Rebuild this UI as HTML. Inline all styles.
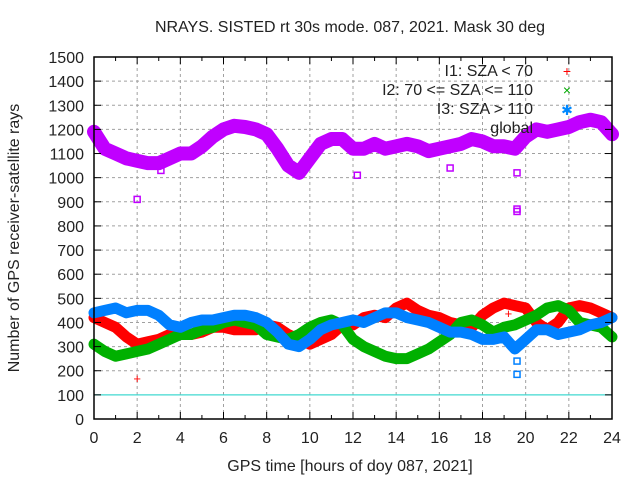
<!DOCTYPE html>
<html><head><meta charset="utf-8"><style>
body{margin:0;background:#fff}
svg text{font-family:"Liberation Sans",sans-serif;font-size:16px;fill:#222}
</style></head><body>
<svg id="chart" width="640" height="480" xmlns="http://www.w3.org/2000/svg">
<g id="grid"></g>
<g id="series"></g>
<g id="axes"></g>
<text x="350" y="32" text-anchor="middle">NRAYS. SISTED rt 30s mode. 087, 2021. Mask 30 deg</text>
<text x="350" y="471" text-anchor="middle">GPS time [hours of doy 087, 2021]</text>
<text transform="translate(19,238) rotate(-90)" text-anchor="middle">Number of GPS receiver-satellite rays</text>
<g id="legend">
<text x="533" y="76" text-anchor="end">I1: SZA &lt; 70</text>
<text x="533" y="95" text-anchor="end">I2: 70 &lt;= SZA &lt;= 110</text>
<text x="533" y="114" text-anchor="end">I3: SZA &gt; 110</text>
<text x="533" y="133" text-anchor="end">global</text>
<text x="567" y="76" text-anchor="middle" style="fill:#f00;font-size:14px">+</text>
<text x="567" y="95" text-anchor="middle" style="fill:#0a0;font-size:14px">×</text>
<text x="567" y="115" text-anchor="middle" style="fill:#08f;font-size:14px">✱</text>
</g>
</svg>
<script>
const hours=[0,0.5,1,1.5,2,2.5,3,3.5,4,4.5,5,5.5,6,6.5,7,7.5,8,8.5,9,9.5,10,10.5,11,11.5,12,12.5,13,13.5,14,14.5,15,15.5,16,16.5,17,17.5,18,18.5,19,19.5,20,20.5,21,21.5,22,22.5,23,23.5,24];
const globalVals=[1190,1120,1100,1080,1070,1060,1060,1080,1100,1100,1130,1170,1200,1215,1210,1200,1180,1120,1050,1020,1080,1140,1160,1160,1120,1120,1140,1120,1130,1140,1130,1110,1120,1130,1140,1160,1150,1130,1130,1120,1170,1200,1190,1200,1210,1230,1240,1230,1180];
const i1Vals=[420,400,380,340,310,320,330,350,360,350,360,380,380,370,370,370,390,380,350,330,310,330,350,390,390,420,430,420,460,480,450,430,420,400,390,380,430,460,480,470,460,400,370,400,460,470,460,440,420];
const i2Vals=[310,280,260,270,280,290,310,330,350,350,370,380,400,410,400,390,350,340,330,350,380,400,410,390,330,300,280,260,250,250,270,290,320,350,400,410,390,360,380,390,410,430,460,470,450,400,390,380,340];
const i3Vals=[440,450,460,440,450,450,430,390,380,400,410,410,420,430,430,420,400,360,310,300,330,370,390,400,410,400,420,440,440,420,410,400,380,360,360,350,330,330,340,290,330,370,370,350,360,370,390,400,420];
const globalOutX=[2,19.6,19.6,19.6,12.2,16.5,3.1];
const globalOutY=[910,1020,860,870,1010,1040,1030];
const i1OutX=[2,19.2];const i1OutY=[170,440];
const i3OutX=[19.6,19.6];const i3OutY=[185,240];
const xTicks=[0,2,4,6,8,10,12,14,16,18,20,22,24];
const yTicks=[0,100,200,300,400,500,600,700,800,900,1000,1100,1200,1300,1400,1500];
const X0=94,X1=612,Y0=419,Y1=57;
const xs=h=>X0+h/24*(X1-X0), ys=v=>Y0-v/1500*(Y0-Y1);
const NS="http://www.w3.org/2000/svg";
function mk(tag,attrs,parent){const e=document.createElementNS(NS,tag);for(const k in attrs)e.setAttribute(k,attrs[k]);parent.appendChild(e);return e;}
const grid=document.getElementById('grid'),axes=document.getElementById('axes'),ser=document.getElementById('series');
xTicks.forEach(t=>{
 if(t>0&&t<24){const l=mk('line',{x1:xs(t),x2:xs(t),y1:Y0,y2:Y1,stroke:'#a0a0a0','stroke-dasharray':'3,3'},grid);
 
 }
 const tx=mk('text',{x:xs(t),y:Y0+24,'text-anchor':'middle'},axes);tx.textContent=t;
 
 
});
for(let h=0;h<=24;h++){mk('line',{x1:xs(h),x2:xs(h),y1:Y0,y2:Y0-(h%2?4:7),stroke:'#000'},axes);mk('line',{x1:xs(h),x2:xs(h),y1:Y1,y2:Y1+(h%2?4:7),stroke:'#000'},axes);}
yTicks.forEach(t=>{
 if(t>100&&t<1500){const l=mk('line',{x1:X0,x2:X1,y1:ys(t),y2:ys(t),stroke:'#a0a0a0','stroke-dasharray':'3,3'},grid);
 
 }
 mk('line',{x1:X0,x2:X0+7,y1:ys(t),y2:ys(t),stroke:'#000'},axes);
 mk('line',{x1:X1,x2:X1-7,y1:ys(t),y2:ys(t),stroke:'#000'},axes);
 const tx=mk('text',{x:X0-10,y:ys(t)+6,'text-anchor':'end'},axes);tx.textContent=t;
 
 
});
const ref=mk('line',{x1:X0,x2:X1,y1:ys(100),y2:ys(100),stroke:'#40d8d0','stroke-width':1.3},grid);


const border=mk('rect',{x:X0,y:Y1,width:X1-X0,height:Y0-Y1,fill:'none',stroke:'#000','stroke-width':1.5},axes);


function band(vals,color,w,name){
 const pts=hours.map((h,i)=>xs(h)+','+ys(vals[i])).join(' ');
 const p=mk('polyline',{points:pts,fill:'none',stroke:color,'stroke-width':w,'stroke-linejoin':'round','stroke-linecap':'round'},ser);
 
 
}
function outl(xa,ya,color,name,sq){
 xa.forEach((h,i)=>{
  const e=sq?mk('rect',{x:xs(h)-3,y:ys(ya[i])-3,width:6,height:6,fill:'none',stroke:color,'stroke-width':1.5},ser)
           :mk('text',{x:xs(h),y:ys(ya[i])+5,'text-anchor':'middle',style:'fill:'+color+';font-size:13px'},ser);
  if(!sq)e.textContent='+';
  
  
 });
}
band(globalVals,'#c000ff',14,'global-series');
band(i1Vals,'#ff0000',11,'i1-series');
band(i2Vals,'#00b000',11,'i2-series');
band(i3Vals,'#0080ff',11,'i3-series');
outl(globalOutX,globalOutY,'#c000ff','global-outlier',true);
outl(i1OutX,i1OutY,'#ff0000','i1-outlier',false);
outl(i3OutX,i3OutY,'#0080ff','i3-outlier',true);
</script>
</body></html>
